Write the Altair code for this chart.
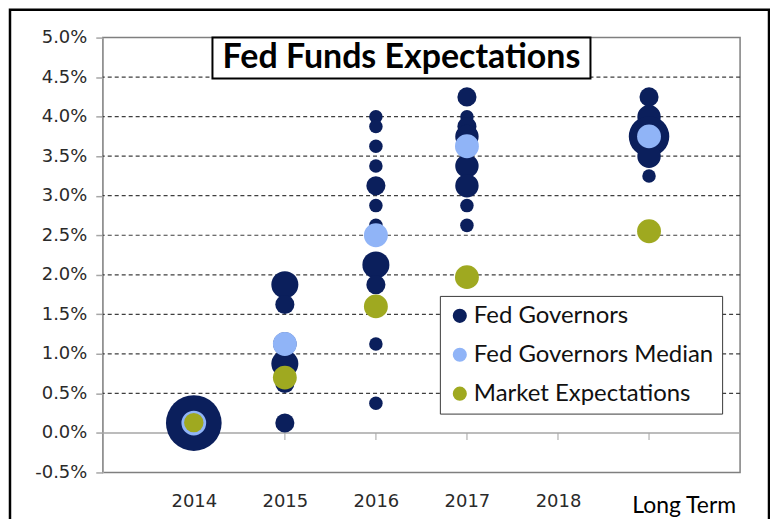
import altair as alt
import pandas as pd

# ---------------- data ----------------
categories = ["2014", "2015", "2016", "2017", "2018", "Long Term"]
cat_pos = [1, 2, 3, 4, 5, 6]

# Fed governors' dots: x position (category index), rate (%), number of participants
gov_x = [1,
         2, 2, 2, 2, 2, 2,
         3, 3, 3, 3, 3, 3, 3, 3, 3, 3, 3, 3,
         4, 4, 4, 4, 4, 4, 4, 4, 4,
         6, 6, 6, 6, 6]
gov_rate = [0.125,
            1.875, 1.625, 1.125, 0.875, 0.625, 0.125,
            4.0, 3.875, 3.625, 3.375, 3.125, 2.875, 2.625, 2.5, 2.125, 1.875, 1.125, 0.375,
            4.25, 4.0, 3.875, 3.75, 3.625, 3.375, 3.125, 2.875, 2.625,
            4.25, 4.0, 3.75, 3.5, 3.25]
gov_count = [17,
             4, 2, 3, 4, 2, 2,
             1, 1, 1, 1, 2, 1, 1, 1, 4, 2, 1, 1,
             2, 1, 2, 3, 1, 3, 3, 1, 1,
             2, 3, 9, 3, 1]

median_x = [1, 2, 3, 4, 6]
median_rate = [0.125, 1.125, 2.5, 3.625, 3.75]

market_x = [1, 2, 3, 4, 6]
market_rate = [0.13, 0.70, 1.60, 1.97, 2.55]

y_ticks = [-0.5, 0.0, 0.5, 1.0, 1.5, 2.0, 2.5, 3.0, 3.5, 4.0, 4.5, 5.0]
grid_vals = [0.5, 1.0, 1.5, 2.0, 2.5, 3.0, 3.5, 4.0, 4.5]

series_names = ["Fed Governors", "Fed Governors Median", "Market Expectations"]
series_colors = ["#0B1F5C", "#90B4F7", "#9FA920"]
title_text = "Fed Funds Expectations"

# ---------------- frames ----------------
gov_df = pd.DataFrame({"x": gov_x, "rate": gov_rate, "count": gov_count,
                       "series": series_names[0]})
med_df = pd.DataFrame({"x": median_x, "rate": median_rate, "series": series_names[1]})
mkt_df = pd.DataFrame({"x": market_x, "rate": market_rate, "series": series_names[2]})
grid_df = pd.DataFrame({"rate": grid_vals})
zero_df = pd.DataFrame({"rate": [0.0]})
tick_df = pd.DataFrame({"x": cat_pos, "rate": [0.0] * len(cat_pos)})
one = pd.DataFrame({"t": [title_text]})

W, H = 639, 436
xscale = alt.Scale(domain=[0, 7], nice=False, zero=False)
yscale = alt.Scale(domain=[-0.5, 5.0], nice=False, zero=False)
color = alt.Color("series:N",
                  scale=alt.Scale(domain=series_names, range=series_colors),
                  legend=alt.Legend(title=None, orient="none", legendX=338, legendY=259,
                                    fillColor="white", strokeColor="#3a3a3a",
                                    padding=8, symbolType="circle", symbolSize=200,
                                    symbolStrokeWidth=0, labelFont="Lato",
                                    labelFontSize=24, labelColor="#111111",
                                    labelOffset=2, rowPadding=15, labelLimit=400))

label_expr = "[" + ",".join("'%s'" % c for c in categories[:5]) + "][datum.value - 1]"

x_axis = alt.Axis(values=cat_pos[:5], labelExpr=label_expr, title=None,
                  domain=False, ticks=False, grid=False, labelPadding=20,
                  labelFont="DejaVu Sans", labelFontSize=18,
                  labelColor="#2a2a2a", labelBaseline="top")
y_axis = alt.Axis(values=y_ticks,
                  labelExpr="(datum.value < 0 ? '-' : '') + format(abs(datum.value), '.1f') + '%'",
                  title=None, grid=False, domainColor="#a6a6a6", domainWidth=1.5,
                  tickColor="#a6a6a6", tickSize=7, tickWidth=1.5,
                  labelPadding=9, labelFont="DejaVu Sans", labelFontSize=18,
                  labelColor="#2a2a2a")
X = alt.X("x:Q", scale=xscale, axis=x_axis)
Y = alt.Y("rate:Q", scale=yscale, axis=y_axis)

frame = alt.Chart(one).mark_rect(fill="transparent", stroke="black", strokeWidth=2.5).encode(
    x=alt.value(-93), x2=alt.value(668), y=alt.value(-28), y2=alt.value(530))

grid = alt.Chart(grid_df).mark_rule(color="#3f3f3f", strokeDash=[4, 3], strokeWidth=1.2).encode(
    y=Y)

zero = alt.Chart(zero_df).mark_rule(color="#a6a6a6", strokeWidth=1.5).encode(y=Y)

ticks = alt.Chart(tick_df).mark_tick(orient="vertical", size=7, thickness=1.5,
                                     color="#a6a6a6", yOffset=3.5).encode(x=X, y=Y)

gov = alt.Chart(gov_df).mark_circle(opacity=1).encode(
    x=X, y=Y, color=color,
    size=alt.Size("count:Q", scale=alt.Scale(domain=[0, 17], range=[0, 3117]), legend=None))

med = alt.Chart(med_df).mark_circle(opacity=1).encode(
    x=X, y=Y, color=color,
    size=alt.condition("datum.x == 1", alt.value(616), alt.value(573)))

mkt = alt.Chart(mkt_df).mark_circle(opacity=1).encode(
    x=X, y=Y, color=color,
    size=alt.condition("datum.x == 1", alt.value(380), alt.value(573)))

title_box = alt.Chart(one).mark_rect(fill="white", stroke="black", strokeWidth=2).encode(
    x=alt.value(110), x2=alt.value(489), y=alt.value(0), y2=alt.value(41))

title = alt.Chart(one).mark_text(font="Lato", fontSize=34, fontWeight="bold",
                                 color="black", align="center", baseline="middle").encode(
    x=alt.value(299.5), y=alt.value(20.5), text="t:N")

long_term = alt.Chart(one).mark_text(font="Lato", fontSize=23, color="black",
                                     align="center", baseline="middle").encode(
    x=alt.value(583), y=alt.value(34 + H), text=alt.datum(categories[5]))

chart = alt.layer(frame, grid, zero, ticks, gov, med, mkt, title_box, title, long_term).properties(
    width=W, height=H,
    autosize=alt.AutoSizeParams(type="none"),
    padding={"left": 95, "top": 29, "right": 30, "bottom": 46},
).configure_view(stroke="#7f7f7f", strokeWidth=1.5)

chart.save("out.html", embed_options={"renderer": "svg", "actions": False})
